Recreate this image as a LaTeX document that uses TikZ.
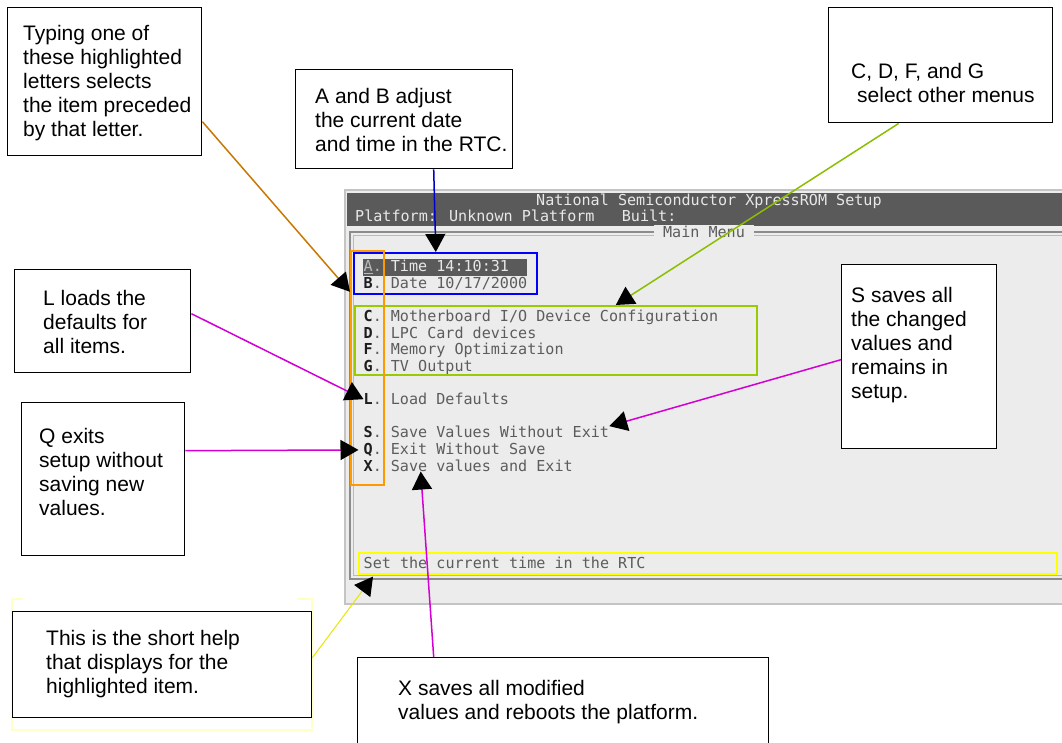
\documentclass[tikz,border=0pt]{standalone}
\usepackage{fontspec}
\setmainfont{Liberation Sans}
\newfontfamily\termfont{DejaVu Sans Mono}
\usepackage{tikz}
\usetikzlibrary{positioning, calc, arrows.meta}

\definecolor{winbg}{RGB}{236,236,236}
\definecolor{winedge}{RGB}{196,196,196}
\definecolor{titlebg}{RGB}{90,90,90}
\definecolor{titletxt}{RGB}{232,232,232}
\definecolor{itemtxt}{RGB}{92,92,92}
\definecolor{keytxt}{RGB}{30,30,30}
\definecolor{framegray}{RGB}{140,140,140}
\definecolor{selorange}{RGB}{255,153,0}
\definecolor{selblue}{RGB}{0,0,255}
\definecolor{selgreen}{RGB}{153,204,0}
\definecolor{selyellow}{RGB}{255,255,0}
\definecolor{paleyellow}{RGB}{255,255,200}
\definecolor{arrorange}{RGB}{200,120,0}
\definecolor{arrblue}{RGB}{0,0,204}
\definecolor{arrgreen}{RGB}{140,190,0}
\definecolor{arrmagenta}{RGB}{210,0,210}
\definecolor{arryellow}{RGB}{230,230,0}

\tikzset{
	callout/.style={draw, fill=white, line width=1.4pt, inner sep=0pt, anchor=north west},
	note/.style={font=\fontsize{21}{24}\selectfont, align=left, inner sep=0pt, anchor=north west},
	term/.style={font=\termfont\fontsize{15.1}{16.6}\selectfont, inner sep=0pt, anchor=base west},
	selbox/.style={draw=#1, line width=1.6pt, inner sep=0pt, anchor=north west},
	pointer/.style={draw=#1, line width=1.5pt, -{Triangle[length=18pt,width=20pt,color=black]}}
}

\begin{document}
\begin{tikzpicture}[x=1pt, y=-1pt]
		\useasboundingbox (0,0) rectangle (1062,743);
		\clip (0,0) rectangle (1062,743);
		
		% setup screen
		\fill[winbg] (345,190) rectangle (1075,604);
		\draw[winedge, line width=1.5pt] (345,190) rectangle (1075,604);
		\fill[titlebg] (347,193) rectangle (1075,226);
		\draw[framegray, line width=1.2pt] (350,232) rectangle (1075,579);
		\draw[framegray!60, line width=1.2pt] (353.5,235.5) rectangle (1075,575.5);
		\node[term, text=titletxt] (title) at (536,206) {National Semiconductor XpressROM Setup};
		\node[term, text=titletxt] (platform) at (355,222) {Platform: Unknown Platform\ \ \ Built:};
		\node[term, anchor=base, fill=winbg, inner xsep=9pt, inner ysep=2pt, text=itemtxt] (menutitle) at (704,238) {Main Menu};
		
		\fill[titlebg] (363,259) rectangle (527,276);
		\node[term, text=gray!55] (keyA) at (363.5,271.9) {\underline{A}.};
		\node[term, text=titletxt] (itemA) at (390.7,271.9) {Time 14:10:31};
		\foreach \k/\r/\txt in {B/1/{Date 10/17/2000}, C/3/{Motherboard I/O Device Configuration},
			D/4/{LPC Card devices}, F/5/{Memory Optimization}, G/6/{TV Output}, L/8/{Load Defaults},
			S/10/{Save Values Without Exit}, Q/11/{Exit Without Save}, X/12/{Save values and Exit}}
		{
			\node[term, text=keytxt] (key\k) at (363.5,{271.9+16.6*\r}) {\textbf{\k}\textcolor{itemtxt}{.}};
			\node[term, text=itemtxt] (item\k) at (390.7,{271.9+16.6*\r}) {\txt};
		}
		\node[term, text=itemtxt] (status) at (363.5,568) {Set the current time in the RTC};
		
		\node[selbox=selblue, minimum width=183pt, minimum height=41pt] (timedate) at (353,252) {};
		\node[selbox=selgreen, minimum width=402pt, minimum height=69pt] (submenus) at (354,305) {};
		\node[selbox=selyellow, minimum width=698pt, minimum height=21pt] (helpline) at (358,552) {};
		\node[selbox=selorange, minimum width=33pt, minimum height=234pt] (letters) at (350,250) {};
		
		% callouts
		\draw[paleyellow, line width=2pt] (23,599) -- (12,599) -- (12,730) -- (312,730) -- (312,599) -- (297,599);
		\node[callout, minimum width=194pt, minimum height=148pt] (typing) at (7,7) {};
		\node[note] (typingtxt) at (23,25) {Typing one of\\these highlighted\\letters selects\\the item preceded\\by that letter.};
		\node[callout, minimum width=217pt, minimum height=99pt] (ab) at (295,69) {};
		\node[note] (abtxt) at (315,88) {A and B adjust\\the current date\\and time in the RTC.};
		\node[callout, minimum width=224pt, minimum height=115pt] (cdfg) at (828,7) {};
		\node[note] (cdfgtxt) at (851,63) {C, D, F, and G\\\hspace*{6pt}select other menus};
		\node[callout, minimum width=176pt, minimum height=103pt] (lbox) at (14,269) {};
		\node[note] (ltxt) at (43,290) {L loads the\\defaults for\\all items.};
		\node[callout, minimum width=163pt, minimum height=153pt] (qbox) at (21,402) {};
		\node[note] (qtxt) at (39,428) {Q exits\\setup without\\saving new\\values.};
		\node[callout, minimum width=299pt, minimum height=106pt] (help) at (12,611) {};
		\node[note] (helptxt) at (46,630) {This is the short help\\that displays for the\\highlighted item.};
		\node[callout, minimum width=155pt, minimum height=184pt] (sbox) at (841,264) {};
		\node[note] (stxt) at (851,287) {S saves all\\the changed\\values and\\remains in\\setup.};
		\node[callout, minimum width=411pt, minimum height=120pt] (xbox) at (357,657) {};
		\node[note] (xtxt) at (398,680) {X saves all modified\\values and reboots the platform.};
		
		\draw[pointer=arrorange] ([yshift=-40pt]typing.east) -- ([yshift=76pt]letters.west);
		\draw[pointer=arrblue] ([xshift=29.5pt]ab.south) -- ([xshift=-9.5pt]timedate.north);
		\draw[pointer=arrgreen] ([xshift=-42pt]cdfg.south) -- ([xshift=60pt]submenus.north);
		\draw[pointer=arrmagenta] ([yshift=7.5pt]lbox.east) -- (keyL.west);
		\draw[pointer=arrmagenta] ([yshift=28.5pt]qbox.east) -- ([xshift=-5pt]keyQ.west);
		\draw[pointer=arrmagenta] ([yshift=-3pt]sbox.west) -- (itemS.north east);
		\draw[pointer=arrmagenta] ([xshift=-129.5pt]xbox.north) -- ([xshift=30pt]itemX.south west);
		\draw[pointer=arryellow, line width=1pt] ([yshift=7pt]help.east) -- ([xshift=15pt,yshift=-2pt]helpline.south west);
\end{tikzpicture}
\end{document}
